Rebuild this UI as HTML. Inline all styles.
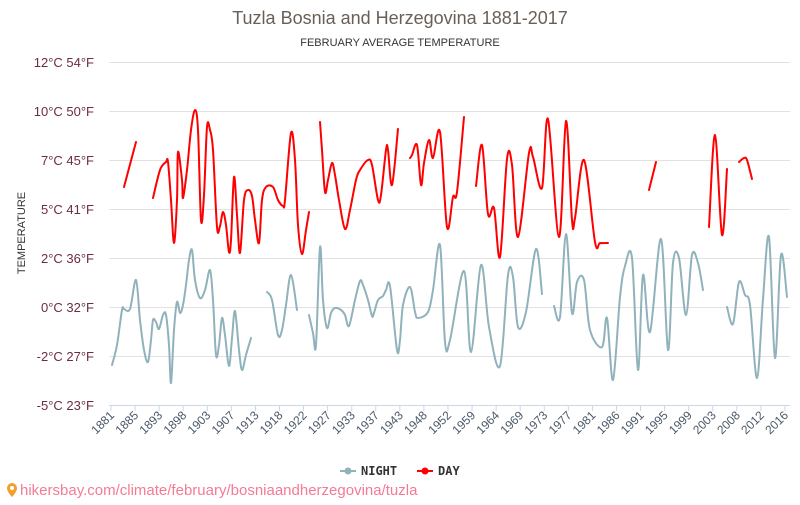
<!DOCTYPE html>
<html><head><meta charset="utf-8"><style>
body{margin:0;background:#fff;width:800px;height:500px;overflow:hidden;font-family:"Liberation Sans",sans-serif}
</style></head><body>
<svg id="s" width="800" height="500" xmlns="http://www.w3.org/2000/svg" font-family="Liberation Sans, sans-serif">
<text x="400" y="24" text-anchor="middle" font-size="18" fill="#6b5f55">Tuzla Bosnia and Herzegovina 1881-2017</text>
<text x="400" y="46" text-anchor="middle" font-size="11" fill="#333">FEBRUARY AVERAGE TEMPERATURE</text>
<g stroke="#e2e2e2" stroke-width="1">
<line x1="109" x2="790" y1="62.5" y2="62.5"/><line x1="109" x2="790" y1="111.5" y2="111.5"/>
<line x1="109" x2="790" y1="160.5" y2="160.5"/><line x1="109" x2="790" y1="209.5" y2="209.5"/>
<line x1="109" x2="790" y1="258.5" y2="258.5"/><line x1="109" x2="790" y1="307.5" y2="307.5"/>
<line x1="109" x2="790" y1="356.5" y2="356.5"/>
</g>
<line x1="109" x2="790" y1="405.5" y2="405.5" stroke="#ccd6eb"/>
<g font-size="13" fill="#6d2b45" text-anchor="end">
<text x="94" y="67">12°C 54°F</text><text x="94" y="116">10°C 50°F</text>
<text x="94" y="165">7°C 45°F</text><text x="94" y="214">5°C 41°F</text>
<text x="94" y="263">2°C 36°F</text><text x="94" y="312">0°C 32°F</text>
<text x="94" y="361">-2°C 27°F</text><text x="94" y="410">-5°C 23°F</text>
</g>
<text transform="translate(25,233) rotate(-90)" text-anchor="middle" font-size="11" fill="#333">TEMPERATURE</text>
<g id="xt"></g>
<g id="lines" fill="none" stroke-width="2" stroke-linejoin="round" stroke-linecap="round"></g>
<g font-size="12" font-weight="bold" font-family="DejaVu Sans Mono, monospace" fill="#333">
<line x1="340" x2="356" y1="471" y2="471" stroke="#90b2bb" stroke-width="2"/><circle cx="348" cy="471" r="3.5" fill="#90b2bb"/>
<text x="361" y="475">NIGHT</text>
<line x1="417" x2="433" y1="471" y2="471" stroke="#f00" stroke-width="2"/><circle cx="425" cy="471" r="3.5" fill="#f00"/>
<text x="438" y="475">DAY</text>
</g>
<path d="M12 483a5 5 0 0 1 5 5c0 4-5 9-5 9s-5-5-5-9a5 5 0 0 1 5-5z" fill="#f0a030"/><circle cx="12" cy="488" r="2" fill="#fff"/>
<text x="20" y="495" font-size="15" fill="#f37b95">hikersbay.com/climate/february/bosniaandherzegovina/tuzla</text>
</svg>
<script>
var years=[1881,1885,1893,1898,1903,1907,1913,1918,1922,1927,1933,1937,1943,1948,1952,1959,1964,1969,1973,1977,1981,1986,1991,1995,1999,2003,2008,2012,2016];
var xt=document.getElementById('xt'),h='';
years.forEach(function(y,i){var x=111+i*24.07;
h+='<line x1="'+x+'" x2="'+x+'" y1="405" y2="411" stroke="#ccd6eb"/>';
h+='<text transform="translate('+(x+4)+',416) rotate(-45)" text-anchor="end" font-size="12" fill="#4a5868">'+y+'</text>';});
xt.innerHTML=h;
function sm(p){var d='M'+p[0][0]+' '+p[0][1];for(var i=0;i<p.length-1;i++){var a=p[i-1]||p[i],b=p[i],c=p[i+1],e=p[i+2]||c;
d+=' C'+(b[0]+(c[0]-a[0])/6)+' '+(b[1]+(c[1]-a[1])/6)+' '+(c[0]-(e[0]-b[0])/6)+' '+(c[1]-(e[1]-b[1])/6)+' '+c[0]+' '+c[1];}return d;}
var red=[
[[124,187],[136,142]],
[[153,198],[160,170],[166,162],[168,162],[171,200],[174,243],[177,200],[178,152],[182,180],[183,198],[187,170],[191,130],[195,110],[198,130],[201,220],[204,195],[207,127],[210,130],[213,150],[217,227],[220,226],[223,212],[226,225],[229,252],[231,240],[234,177],[237,215],[240,253],[244,200],[248,190],[252,196],[255,220],[259,243],[262,200],[266,187],[273,187],[278,200],[283,206],[285,200],[291,133],[295,160],[298,225],[302,254],[306,230],[309,212]],
[[320,122],[322,150],[325,192],[328,180],[332,163],[335,175],[339,200],[345,229],[350,210],[356,180],[360,170],[368,160],[372,165],[378,200],[381,195],[386,150],[388,150],[392,185],[398,129]],
[[410,158],[412,155],[417,145],[421,185],[424,163],[429,140],[433,158],[440,132],[447,227],[453,197],[457,192],[464,117]],
[[476,186],[482,145],[488,214],[494,208],[500,257],[507,159],[512,165],[518,237],[529,153],[533,157],[542,188],[548,119],[559,237],[566,121],[572,220],[575,218],[584,160],[595,242],[600,243],[608,243]],
[[649,190],[656,162]],
[[709,227],[715,135],[722,235],[727,169]],
[[739,162],[744,158],[747,160],[752,179]]];
var gr=[
[[112,365],[117,345],[122,310],[124,309],[130,309],[136,280],[140,320],[144,350],[148,362],[151,340],[153,320],[156,322],[159,329],[163,315],[166,315],[169,345],[171,383],[174,330],[177,302],[180,313],[183,305],[186,285],[189,260],[192,250],[195,280],[200,298],[205,290],[210,270],[213,300],[216,355],[219,345],[222,318],[225,335],[229,366],[232,338],[235,311],[239,350],[242,370],[246,355],[251,338]],
[[267,292],[272,300],[278,335],[282,330],[286,305],[291,275],[297,310]],
[[309,315],[313,333],[316,345],[320,247],[323,300],[327,328],[331,313],[335,308],[341,310],[345,315],[349,326],[355,300],[360,281],[363,285],[368,300],[372,316],[374,313],[378,300],[383,296],[386,290],[390,286],[397,350],[400,340],[403,305],[410,287],[415,312],[418,318],[428,312],[433,290],[440,245],[445,342],[450,340],[464,271],[471,352],[481,265],[489,327],[500,366],[508,275],[513,277],[518,327],[526,312],[536,249],[542,294]],
[[554,306],[560,317],[566,234],[572,313],[577,282],[584,280],[590,330],[602,347],[607,318],[613,380],[620,297],[625,266],[632,258],[638,370],[643,275],[650,332],[661,239],[668,350],[673,263],[679,258],[686,315],[692,255],[698,263],[703,290]],
[[727,307],[733,324],[739,282],[745,295],[750,305],[757,378],[763,299],[769,237],[775,358],[781,255],[787,297]]];
var g='';gr.forEach(function(p){g+='<path d="'+sm(p)+'" stroke="#90b2bb"/>';});
red.forEach(function(p){g+='<path d="'+sm(p)+'" stroke="#ff0000"/>';});
document.getElementById('lines').innerHTML=g;
</script>
</body></html>
